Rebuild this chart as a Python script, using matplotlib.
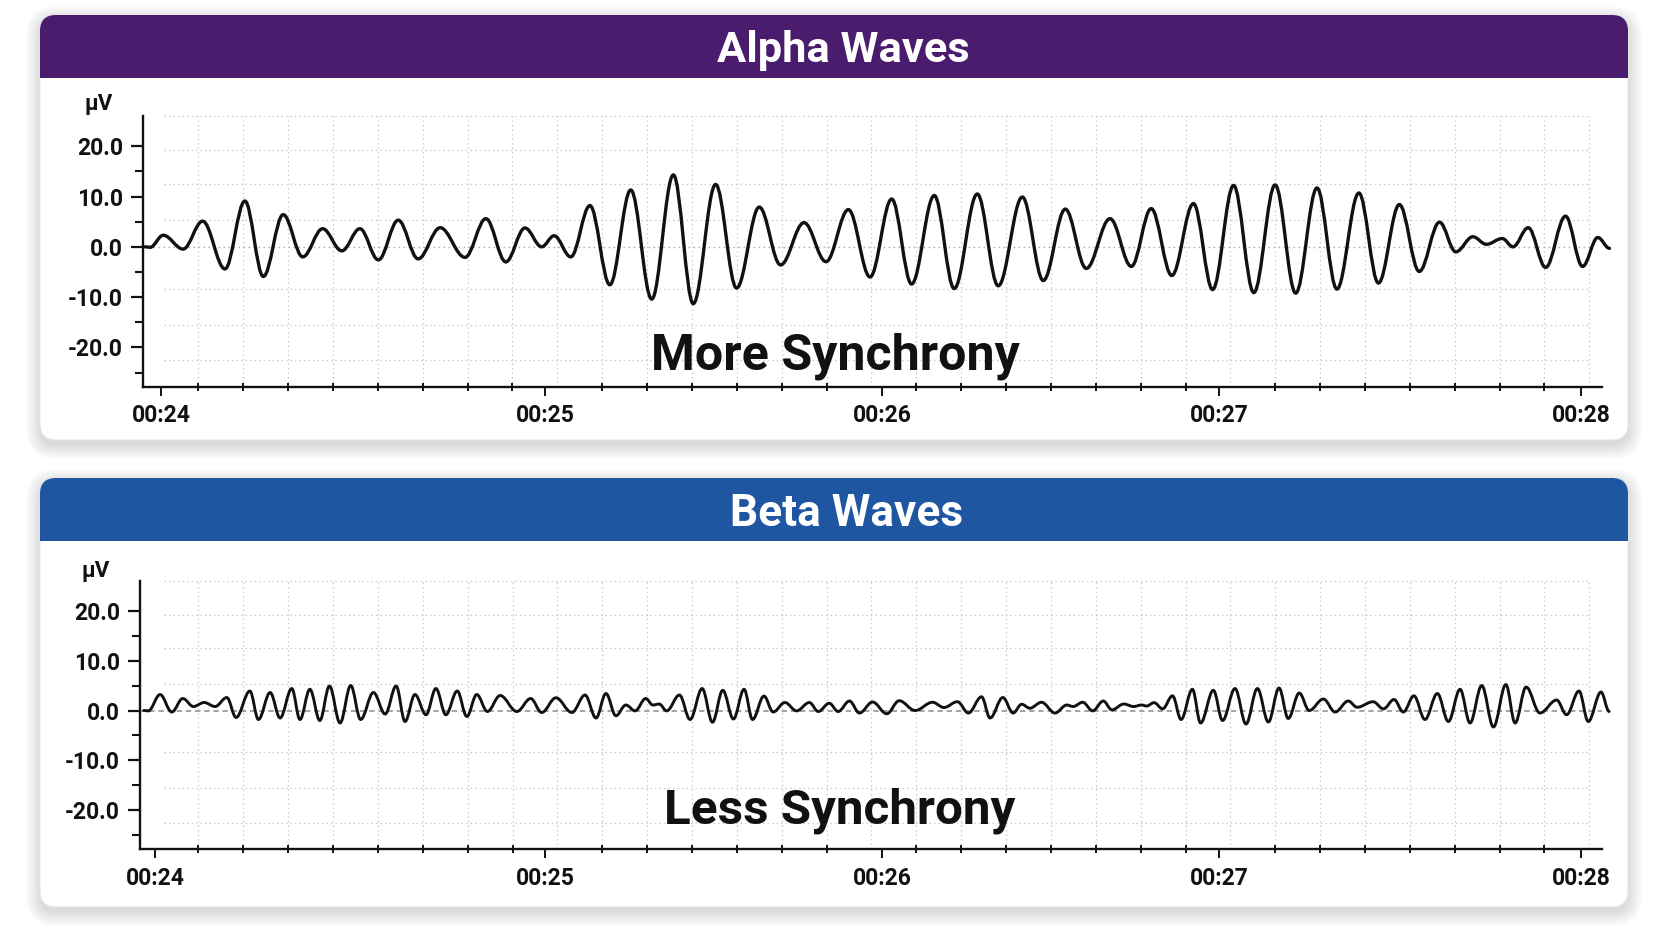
import numpy as np
import matplotlib
matplotlib.use("Agg")
import matplotlib.pyplot as plt
from matplotlib.path import Path
from matplotlib.patches import PathPatch, FancyBboxPatch, Rectangle

plt.rcParams['font.family'] = ['Roboto', 'DejaVu Sans']
plt.rcParams['axes.unicode_minus'] = False

# ---------------- data ----------------
panel_titles = ["Alpha Waves", "Beta Waves"]
panel_notes = ["More Synchrony", "Less Synchrony"]
y_unit = "μV"
y_ticks = [-20, -10, 0, 10, 20]
y_tick_labels = ["-20.0", "-10.0", "0.0", "10.0", "20.0"]
y_minor_ticks = [-25, -15, -5, 5, 15]
x_tick_labels = ["00:24", "00:25", "00:26", "00:27", "00:28"]
alpha_tick_times = [24.0, 25.08, 26.03, 26.98, 28.0]
beta_tick_times = [23.982, 25.08, 26.03, 26.98, 28.0]

# alpha wave: successive peaks / troughs (time in s, amplitude in µV)
alpha_t = [23.954, 23.968, 24.005, 24.061, 24.116, 24.179, 24.235, 24.287, 24.343, 24.398,
           24.454, 24.508, 24.559, 24.611, 24.667, 24.723, 24.785, 24.855, 24.914, 24.970,
           25.024, 25.071, 25.106, 25.153, 25.207, 25.263, 25.322, 25.381, 25.442, 25.498,
           25.561, 25.620, 25.684, 25.744, 25.810, 25.872, 25.935, 25.996, 26.057, 26.113,
           26.177, 26.233, 26.298, 26.357, 26.425, 26.484, 26.546, 26.605, 26.672, 26.732,
           26.788, 26.846, 26.907, 26.961, 27.020, 27.077, 27.137, 27.195, 27.255, 27.311,
           27.373, 27.428, 27.487, 27.543, 27.600, 27.646, 27.694, 27.732, 27.777, 27.807,
           27.850, 27.899, 27.955, 28.003, 28.046, 28.079]
alpha_v = [0.0, -0.1, 2.3, -0.45, 5.1, -4.4, 9.1, -5.9, 6.4, -2.0,
           3.6, -0.8, 3.6, -2.6, 5.3, -2.4, 3.8, -2.1, 5.6, -3.0,
           3.75, 0.0, 2.2, -2.0, 8.2, -7.55, 11.3, -10.4, 14.3, -11.3,
           12.4, -8.2, 7.9, -3.6, 4.8, -2.96, 7.4, -6.0, 9.5, -7.4,
           10.2, -8.3, 10.5, -7.75, 9.9, -6.7, 7.5, -4.3, 5.6, -3.9,
           7.6, -5.7, 8.6, -8.5, 12.2, -9.1, 12.3, -9.2, 11.7, -8.4,
           10.7, -7.2, 8.4, -4.9, 4.9, -1.0, 2.0, 0.5, 1.65, 0.0,
           3.8, -4.1, 6.1, -3.9, 1.85, -0.3]

# beta wave: successive peaks / troughs
beta_t = [23.950, 23.963, 23.996, 24.029, 24.060, 24.090, 24.120, 24.151, 24.184, 24.210,
          24.249, 24.273, 24.306, 24.334, 24.367, 24.390, 24.418, 24.446, 24.473, 24.503,
          24.533, 24.561, 24.597, 24.630, 24.661, 24.686, 24.714, 24.745, 24.773, 24.801,
          24.833, 24.860, 24.888, 24.918, 24.954, 25.001, 25.040, 25.071, 25.111, 25.156,
          25.193, 25.224, 25.252, 25.280, 25.308, 25.334, 25.364, 25.384, 25.402, 25.423,
          25.459, 25.489, 25.523, 25.552, 25.581, 25.611, 25.641, 25.665, 25.697, 25.723,
          25.756, 25.789, 25.825, 25.850, 25.881, 25.906, 25.938, 25.966, 26.003, 26.043,
          26.078, 26.123, 26.172, 26.204, 26.242, 26.273, 26.310, 26.334, 26.370, 26.399,
          26.423, 26.446, 26.479, 26.517, 26.550, 26.568, 26.595, 26.623, 26.653, 26.677,
          26.711, 26.738, 26.761, 26.775, 26.796, 26.820, 26.848, 26.872, 26.904, 26.927,
          26.963, 26.989, 27.024, 27.055, 27.087, 27.118, 27.148, 27.174, 27.205, 27.233,
          27.273, 27.306, 27.343, 27.368, 27.413, 27.442, 27.472, 27.498, 27.528, 27.559,
          27.594, 27.625, 27.658, 27.686, 27.719, 27.752, 27.787, 27.813, 27.844, 27.883,
          27.930, 27.958, 27.993, 28.019, 28.055, 28.078]
beta_v = [0.0, -0.07, 3.2, -0.3, 2.4, 0.8, 1.6, 0.8, 2.6, -1.4,
          3.9, -1.8, 3.6, -1.5, 4.4, -1.8, 4.25, -2.0, 4.9, -2.5,
          5.0, -1.8, 3.6, -0.7, 4.9, -2.2, 3.2, -0.85, 4.4, -0.85,
          3.9, -1.2, 3.2, -0.2, 3.0, -0.2, 2.4, -0.4, 2.55, -0.4,
          3.1, -1.5, 3.4, -1.05, 1.1, -0.07, 2.4, 1.1, 1.3, -0.07,
          3.1, -1.8, 4.4, -2.35, 4.05, -1.7, 4.25, -1.8, 2.9, -0.3,
          1.6, -0.07, 1.6, -0.2, 1.45, -0.2, 1.9, -0.5, 1.7, -0.65,
          1.96, 0.0, 1.65, 0.6, 1.76, -0.5, 2.75, -1.5, 2.6, -0.5,
          1.25, 0.46, 1.65, -0.5, 1.1, 0.8, 1.65, -0.07, 1.9, 0.13,
          1.3, 0.8, 1.1, 0.9, 1.57, 0.33, 2.94, -1.8, 4.25, -2.5,
          4.05, -2.0, 4.4, -2.7, 4.4, -2.3, 4.5, -1.6, 3.5, 0.0,
          2.3, -0.3, 1.9, 0.65, 1.76, 0.33, 2.2, -0.3, 2.94, -1.8,
          3.4, -2.2, 4.25, -2.5, 5.0, -3.3, 5.2, -2.5, 4.7, -0.5,
          2.1, -0.85, 3.9, -2.2, 3.7, -0.2]

# ---------------- layout / style ----------------
W, H = 1672, 941
PURPLE = "#4a1c6e"
BLUE = "#1f56a1"
INK = "#111111"
Y_MIN, Y_MAX = -27.8, 26.0
X_END_SPINE = 28.057
GRID_T0, GRID_DT, GRID_N = 24.104, 0.12639, 32
GRID_Y = [26.0, 19.2, 12.5, 5.4, -8.4, -15.6, -22.5]

fig = plt.figure(figsize=(W / 100, H / 100), dpi=100)
fig.patch.set_facecolor("white")
bg = fig.add_axes([0, 0, 1, 1], zorder=-5)
bg.set_xlim(0, W)
bg.set_ylim(H, 0)
bg.axis("off")


def card(x0, y0, x1, y1, hb, color):
    r = 16
    w, h = x1 - x0, y1 - y0
    for i in range(12):
        p = i * 1.3
        bg.add_patch(FancyBboxPatch((x0 - p, y0 - p + 5), w + 2 * p, h + 2 * p,
                                    boxstyle=f"round,pad=0,rounding_size={r + p}",
                                    fc="black", ec="none", alpha=0.012))
    bg.add_patch(FancyBboxPatch((x0, y0), w, h, boxstyle=f"round,pad=0,rounding_size={r}",
                                fc="white", ec="#e6e6e6", lw=0.8))
    head = FancyBboxPatch((x0, y0), w, hb - y0 + 30, boxstyle=f"round,pad=0,rounding_size={r}",
                          fc=color, ec="none")
    bg.add_patch(head)
    clip = Rectangle((x0 - 2, y0 - 2), w + 4, hb - y0 + 2, transform=bg.transData)
    head.set_clip_path(clip)


card(40, 15, 1628, 440, 78, PURPLE)
card(40, 478, 1628, 907, 541, BLUE)


def wave_path(ts, vs, h=0.364):
    verts = [(ts[0], vs[0])]
    codes = [Path.MOVETO]
    for i in range(len(ts) - 1):
        t0, v0, t1, v1 = ts[i], vs[i], ts[i + 1], vs[i + 1]
        d = (t1 - t0) * h
        verts += [(t0 + d, v0), (t1 - d, v1), (t1, v1)]
        codes += [Path.CURVE4] * 3
    return Path(verts, codes)


def panel(px, xlim, ts, vs, tick_times, lw, zero_dashed):
    x0, y0, x1, y1 = px
    ax = fig.add_axes([x0 / W, 1 - y1 / H, (x1 - x0) / W, (y1 - y0) / H])
    ax.set_facecolor("none")
    ax.set_xlim(*xlim)
    ax.set_ylim(Y_MIN, Y_MAX)
    for s in ["top", "right"]:
        ax.spines[s].set_visible(False)
    for s in ["left", "bottom"]:
        ax.spines[s].set_linewidth(1.7)
        ax.spines[s].set_color(INK)
    ax.spines["bottom"].set_bounds(xlim[0], X_END_SPINE)

    grid_t = [GRID_T0 + GRID_DT * k for k in range(GRID_N)]
    ax.vlines(grid_t, Y_MIN, Y_MAX, colors="#cacaca", linestyles=(0, (1.2, 2.4)), lw=0.9, zorder=0)
    ax.hlines(GRID_Y, 24.007, grid_t[-1], colors="#cacaca", linestyles=(0, (1.2, 2.4)), lw=0.9,
              zorder=0, clip_on=False)
    if zero_dashed:
        ax.hlines(0, xlim[0], X_END_SPINE, colors="#8a8a8a", linestyles=(0, (3.5, 2.5)), lw=1.1, zorder=1)
    else:
        ax.hlines(0, xlim[0], grid_t[-1], colors="#b0b0b0", linestyles=(0, (1.2, 2.4)), lw=1.0, zorder=1)

    ax.add_patch(PathPatch(wave_path(ts, vs), fc="none", ec=INK, lw=lw,
                           capstyle="round", joinstyle="round", zorder=3))

    ax.set_yticks(y_ticks, labels=y_tick_labels)
    ax.set_yticks(y_minor_ticks, minor=True)
    ax.set_xticks(tick_times, labels=x_tick_labels)
    minor_t = [g for g in grid_t if min(abs(g - m) for m in tick_times) > 0.04]
    ax.set_xticks(minor_t, minor=True)
    ax.tick_params(axis="y", which="major", direction="out", length=8.5, width=1.6,
                   pad=6, labelsize=16.5, colors=INK)
    ax.tick_params(axis="y", which="minor", direction="out", length=5.5, width=1.5, colors=INK)
    ax.tick_params(axis="x", which="major", direction="out", length=6.5, width=1.4,
                   pad=6, labelsize=16.5, colors=INK)
    ax.tick_params(axis="x", which="minor", direction="inout", length=6, width=1.4, colors=INK)
    for lab in ax.get_xticklabels() + ax.get_yticklabels():
        lab.set_fontweight("semibold")
    return ax


ax1 = panel((143, 116, 1610.6, 386.7), (23.948, 28.082), alpha_t, alpha_v, alpha_tick_times, 2.4, False)
ax2 = panel((140, 580.7, 1610.6, 849.3), (23.9394, 28.082), beta_t, beta_v, beta_tick_times, 2.1, True)

renderer = fig.canvas.get_renderer()


def fit(txt, target):
    for _ in range(3):
        w = txt.get_window_extent(renderer).width
        txt.set_fontsize(txt.get_fontsize() * target / w)


t1 = bg.text(843, 62, panel_titles[0], color="white", ha="center", va="baseline",
             fontsize=30, fontweight="bold")
t2 = bg.text(847, 526, panel_titles[1], color="white", ha="center", va="baseline",
             fontsize=30, fontweight="bold")
fit(t1, 252)
fit(t2, 233)

n1 = bg.text(835, 369, panel_notes[0], color=INK, ha="center", va="baseline",
             fontsize=36, fontweight="bold", zorder=10)
n2 = bg.text(840, 824, panel_notes[1], color=INK, ha="center", va="baseline",
             fontsize=36, fontweight="bold", zorder=10)
fit(n1, 368)
fit(n2, 352)
# notes must sit above the plot axes
for n in (n1, n2):
    n.remove()
    fig.add_artist(n)
    n.set_transform(bg.transData)

bg.text(99, 104, y_unit, color=INK, ha="center", va="center", fontsize=16, fontweight="bold")
bg.text(96, 571, y_unit, color=INK, ha="center", va="center", fontsize=16, fontweight="bold")

fig.savefig("out.png", dpi=100, facecolor="white")
